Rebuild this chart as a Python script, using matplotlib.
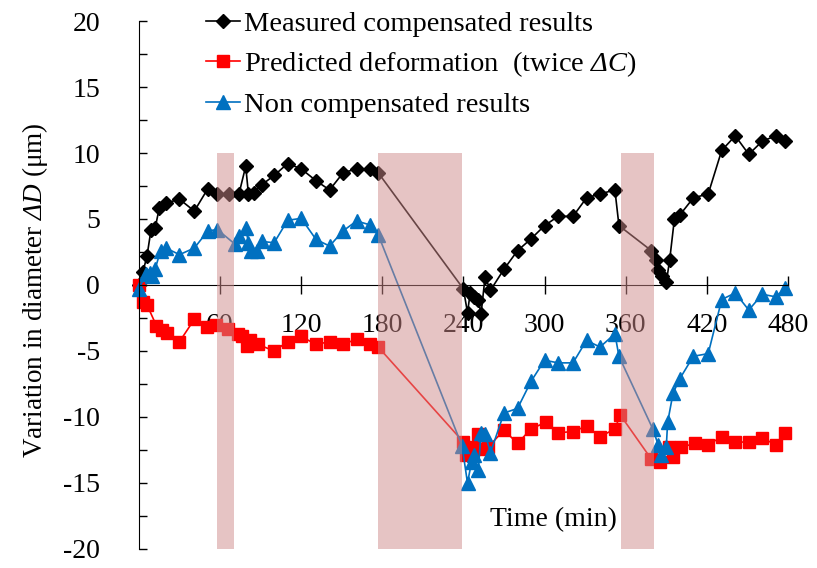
import matplotlib
matplotlib.use("Agg")
import matplotlib.pyplot as plt
from matplotlib.ticker import MultipleLocator

# --- data ---
t_meas = [0, 3, 6, 9, 12, 15, 20, 30, 41, 51, 58, 67, 74, 79, 81, 85, 91, 100,
          110, 120, 131, 141, 151, 161, 171, 177,
          240, 243, 245, 248, 251, 253, 256, 260, 270, 280, 290, 300, 310, 321,
          331, 341, 352, 355, 379, 382.5, 384, 386.5, 390, 392.5, 396, 400,
          410, 421, 431, 441, 451, 461, 471, 478]
v_meas = [0, 1.0, 2.2, 4.2, 4.3, 5.8, 6.2, 6.5, 5.6, 7.3, 6.9, 6.9, 6.9, 9.0,
          6.9, 7.0, 7.6, 8.3, 9.2, 8.8, 7.9, 7.2, 8.5, 8.8, 8.8, 8.5,
          -0.3, -2.1, -0.6, -0.9, -1.1, -2.2, 0.6, -0.4, 1.2, 2.6, 3.5, 4.5,
          5.2, 5.2, 6.6, 6.9, 7.2, 4.5, 2.6, 1.9, 1.1, 0.7, 0.2, 1.9, 5.0, 5.3,
          6.6, 6.9, 10.2, 11.3, 9.9, 10.9, 11.3, 10.9]

t_pred = [0, 3, 6, 13, 17, 21, 30, 41, 50, 57, 66, 73, 76, 80, 82, 88, 100,
          110, 120, 131, 141, 151, 161, 171, 177,
          240, 242, 247, 251, 254, 258, 270, 280, 290, 301, 310, 321, 331, 341,
          352, 356, 379, 385, 392, 395, 401, 411, 421, 431, 441, 451, 461, 471,
          478]
v_pred = [0, -1.3, -1.5, -3.1, -3.4, -3.6, -4.3, -2.6, -3.2, -3.0, -3.3, -3.7,
          -3.9, -4.6, -4.2, -4.5, -5.0, -4.3, -3.9, -4.5, -4.3, -4.5, -4.1,
          -4.5, -4.7,
          -11.9, -12.9, -12.3, -11.3, -12.4, -12.3, -11.0, -12.0, -10.9, -10.4,
          -11.2, -11.1, -10.7, -11.5, -10.9, -9.85, -13.2, -13.4, -12.3, -13.0,
          -12.3, -12.0, -12.1, -11.5, -11.9, -11.9, -11.6, -12.1, -11.2]

t_non = [0, 5, 8, 10, 12, 16, 20, 30, 41, 51, 58, 71, 74, 79, 81, 83, 87, 91,
         100, 110, 120, 131, 141, 151, 161, 171, 177,
         239, 243, 246, 248, 251, 253, 256, 260, 270, 280, 290, 300, 310, 321,
         331, 341, 352, 355, 380, 384, 386, 390, 391, 395, 400, 410, 421, 431,
         441, 451, 461, 471, 478]
v_non = [-0.3, 0.8, 0.9, 0.7, 1.2, 2.6, 2.8, 2.3, 2.8, 4.1, 4.2, 3.1, 3.7, 4.3,
         3.2, 2.6, 2.6, 3.3, 3.2, 4.9, 5.05, 3.45, 2.95, 4.1, 4.85, 4.55, 3.8,
         -12.2, -15.0, -13.4, -12.9, -14.0, -11.2, -11.3, -12.7, -9.7, -9.35,
         -7.3, -5.7, -5.9, -5.9, -4.2, -4.7, -3.7, -5.4, -10.9, -12.1, -12.9,
         -12.25, -10.4, -8.2, -7.1, -5.4, -5.2, -1.1, -0.6, -1.9, -0.7, -0.9,
         -0.25]

# interruption periods (shaded)
GAPS = [(57.6, 70.2), (176.6, 238.7), (356.2, 380.6)]

plt.rcParams.update({
    'font.family': 'Liberation Serif',
    'mathtext.fontset': 'custom',
    'mathtext.rm': 'Liberation Serif:italic',
    'mathtext.it': 'Liberation Serif:italic',
    'font.size': 20,
    'axes.unicode_minus': False,
})

fig = plt.figure(figsize=(8.17, 5.68), dpi=100)
ax = fig.add_axes([0.170, 0.0335, 0.7945, 0.9295])

ax.plot(t_meas, v_meas, color='black', lw=1.2, marker='D', ms=7.5,
        label='Measured compensated results', zorder=2, clip_on=False)
ax.plot(t_pred, v_pred, color='#ff0000', lw=1.2, marker='s', ms=8,
        label=r'Predicted deformation  (twice $ΔC$)', zorder=2, clip_on=False)
ax.plot(t_non, v_non, color='#0070c0', lw=1.2, marker='^', ms=9.5,
        label='Non compensated results', zorder=2, clip_on=False)

for x1, x2 in GAPS:
    ax.fill_between([x1, x2], -20, 10, color='#cf8a8a', alpha=0.5,
                    lw=0, zorder=3)

ax.set_xlim(0, 480)
ax.set_ylim(-20, 20)
ax.spines['top'].set_visible(False)
ax.spines['right'].set_visible(False)
ax.spines['bottom'].set_position(('data', 0))

ax.set_xticks([60, 120, 180, 240, 300, 360, 420, 480])
ax.tick_params(axis='x', direction='inout', length=13, width=1, pad=14)
ax.yaxis.set_major_locator(MultipleLocator(5))
ax.yaxis.set_minor_locator(MultipleLocator(2.5))
ax.tick_params(axis='y', which='both', direction='in', length=6, width=1,
               pad=28)

fig.text(0.043, 0.489, r'Variation in diameter $ΔD$ (μm)', rotation=90,
         ha='center', va='center', fontsize=19.5)
ax.text(0.638, 0.055, 'Time (min)', transform=ax.transAxes, ha='center',
        va='center')

ax.legend(loc='upper left', bbox_to_anchor=(0.0855, 1.041), frameon=False,
          handlelength=1.2, handletextpad=0.15, labelspacing=0.45,
          borderaxespad=0, fontsize=20.5)

fig.savefig('out.png', dpi=100)
